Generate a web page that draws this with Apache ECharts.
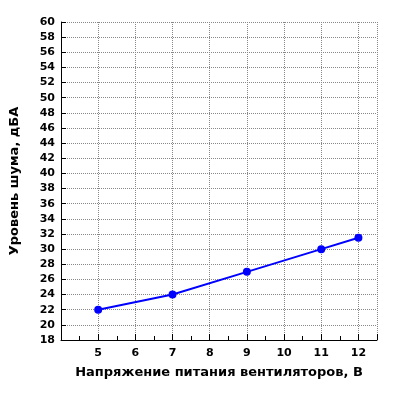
<!DOCTYPE html>
<html><head><meta charset="utf-8">
<script src="https://cdn.jsdelivr.net/npm/echarts@6/dist/echarts.min.js"></script>
<style>html,body{margin:0;background:#fff}#c{width:400px;height:400px}</style>
</head><body><div id="c"></div>
<script>
//напряжение, В
var volts=[5,7,9,11,12];
//уровень шума, дБА
var noise=[22,24,27,30,31.5];

var data=[];
for(var i=0;i<volts.length;i++){data.push([volts[i],noise[i]])}

var grid='#888';
var chart=echarts.init(document.getElementById('c'));
chart.setOption({
	animation:false,
	grid:{left:57,right:23,top:22,bottom:60},
	xAxis:{
		type:'value',min:4,max:12.5,interval:1,
		name:'Напряжение питания вентиляторов, В',nameLocation:'middle',nameGap:26,
		nameTextStyle:{fontFamily:'DejaVu Sans',fontWeight:'bold',fontSize:13,color:'#000'},
		axisLine:{lineStyle:{color:'#000'}},
		axisTick:{inside:true,length:6,lineStyle:{color:'#000'}},
		minorTick:{show:true,splitNumber:2,length:4,lineStyle:{color:'#000'}},
		axisLabel:{fontFamily:'DejaVu Sans',fontWeight:'bold',fontSize:11,color:'#000',
			formatter:function(v){return v<5?'':v}},
		splitLine:{show:true,lineStyle:{color:grid,type:'dotted'}}
	},
	yAxis:{
		type:'value',min:18,max:60,interval:2,
		name:'Уровень шума, дБА',nameLocation:'middle',nameGap:40,
		nameTextStyle:{fontFamily:'DejaVu Sans',fontWeight:'bold',fontSize:13,color:'#000'},
		axisLine:{show:true,lineStyle:{color:'#000'}},
		axisTick:{show:true,inside:true,length:5,lineStyle:{color:'#000'}},
		axisLabel:{fontFamily:'DejaVu Sans',fontWeight:'bold',fontSize:11,color:'#000',margin:6},
		splitLine:{show:true,lineStyle:{color:grid,type:'dotted'}}
	},
	series:[{
		type:'line',data:data,symbol:'circle',symbolSize:8,
		lineStyle:{color:'#0000ff',width:2},
		itemStyle:{color:'#0000ff'}
	}]
});
</script></body></html>
